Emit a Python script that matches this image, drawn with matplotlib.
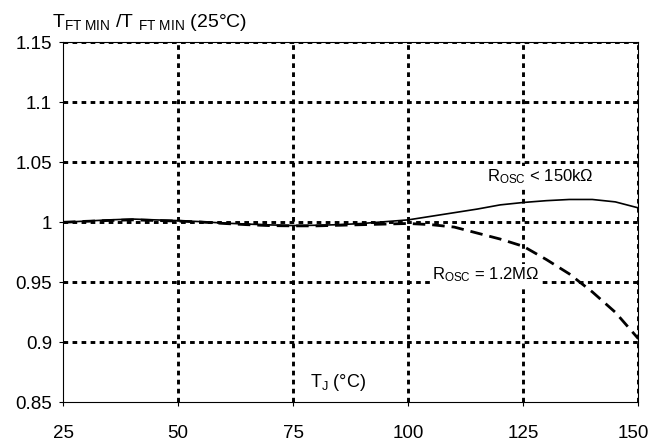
import matplotlib
matplotlib.use("Agg")
import matplotlib.pyplot as plt
import matplotlib.transforms as mtransforms
import numpy as np

plt.rcParams['font.family'] = ['Liberation Sans', 'DejaVu Sans']
plt.rcParams['mathtext.fontset'] = 'custom'
plt.rcParams['mathtext.rm'] = 'Liberation Sans'
plt.rcParams['mathtext.it'] = 'Liberation Sans'

# data
temp_low = [25, 30, 35, 40, 45, 50, 55, 60, 65, 70, 75, 80, 85, 90, 95, 100, 105, 110, 115, 120, 125, 130, 135, 140, 145, 150]
ratio_150k = [1.000, 1.001, 1.002, 1.0027, 1.002, 1.0014, 1.0005, 0.9993, 0.9985, 0.9978, 0.9973, 0.9975, 0.998, 0.999, 1.0005, 1.002, 1.005, 1.008, 1.011, 1.0145, 1.0165, 1.018, 1.019, 1.019, 1.017, 1.012]
temp_high = [25, 30, 35, 40, 45, 50, 55, 60, 65, 70, 75, 80, 85, 90, 95, 100, 105, 110, 115, 120, 125, 130, 135, 140, 145, 150]
ratio_1m2 = [1.000, 1.0008, 1.0015, 1.002, 1.0015, 1.001, 1.0002, 0.999, 0.998, 0.9972, 0.997, 0.997, 0.9975, 0.998, 0.9985, 0.999, 0.998, 0.996, 0.991, 0.986, 0.980, 0.969, 0.957, 0.942, 0.925, 0.903]

x_ticks = [25, 50, 75, 100, 125, 150]
y_ticks = [0.85, 0.9, 0.95, 1.0, 1.05, 1.1, 1.15]
y_labels = ['0.85', '0.9', '0.95', '1', '1.05', '1.1', '1.15']

fig = plt.figure(figsize=(6.53, 4.45), dpi=100)
ax = fig.add_axes([0.0965, 0.096, 0.881, 0.809])

ax.set_xlim(25, 150)
ax.set_ylim(0.85, 1.15)

# grid
grid_style = dict(color='black', lw=2.1, linestyle=(0, (1.6, 1.5)), zorder=1)
for xv in x_ticks[1:]:
    ax.axvline(xv, **grid_style)
for yv in y_ticks[1:]:
    ax.axhline(yv, **grid_style)

ax.plot(temp_high, ratio_1m2, color='black', lw=2.0, linestyle=(0, (4.5, 2.5)), zorder=3)
ax.plot(temp_low, ratio_150k, color='black', lw=1.2, zorder=4)

ax.set_xticks(x_ticks)
ax.set_xticklabels([str(v) for v in x_ticks])
ax.set_yticks(y_ticks)
ax.set_yticklabels(y_labels)
ax.tick_params(direction='out', length=3, width=0.8, labelsize=13.5)
ax.tick_params(axis='x', pad=13)
ax.tick_params(axis='y', pad=5)
for s in ax.spines.values():
    s.set_linewidth(0.8)
    s.set_color('black')

# shift the last x tick label slightly left so it stays inside the figure
last = ax.get_xticklabels()[-1]
last.set_transform(last.get_transform() + mtransforms.ScaledTranslation(-5 / 100, 0, fig.dpi_scale_trans))

bbox = dict(facecolor='white', edgecolor='none', pad=1)
fig.text(52 / 653, 1 - 27 / 445, r'T$_{\mathrm{FT\ MIN}}$ /T $_{\mathrm{FT\ MIN}}$ (25°C)', fontsize=14, ha='left', va='baseline')
ax.text(78.7, 0.8628, r'T$_{\mathrm{J}}$ (°C)', fontsize=13, ha='left', va='baseline', zorder=5)
ax.text(117.1, 1.0344, r'R$_{\mathrm{OSC}}$ < 150kΩ', fontsize=12, ha='left', va='baseline', bbox=bbox, zorder=5)
ax.text(105.2, 0.9525, r'R$_{\mathrm{OSC}}$ = 1.2MΩ', fontsize=12, ha='left', va='baseline', bbox=bbox, zorder=5)

fig.savefig('out.png', dpi=100)
